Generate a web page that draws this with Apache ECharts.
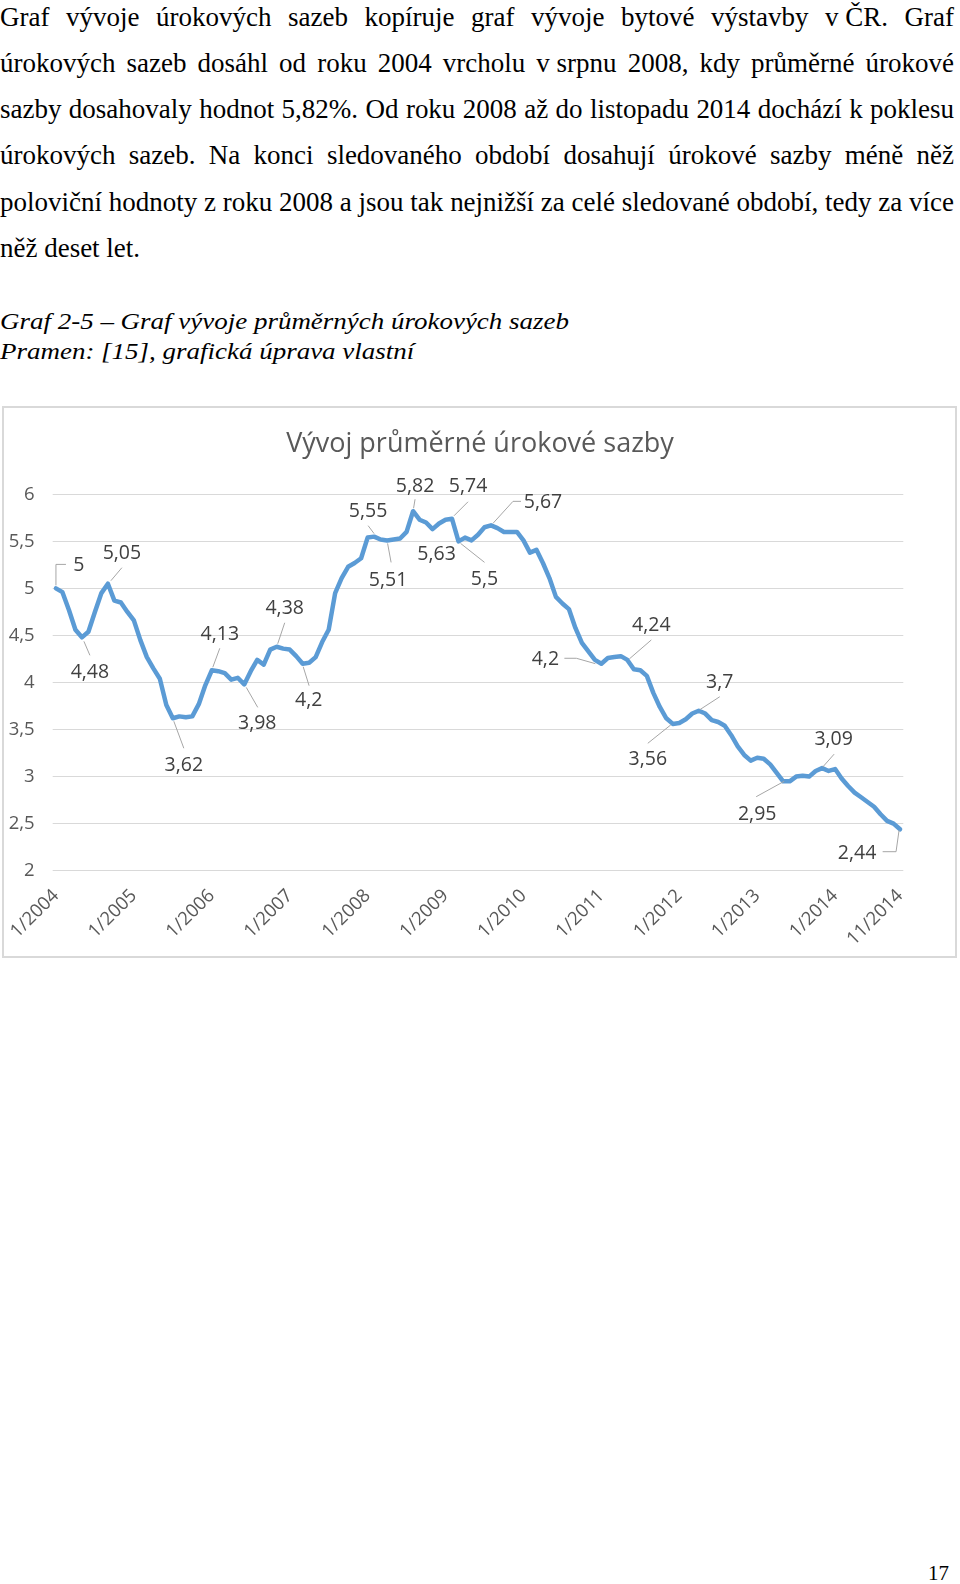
<!DOCTYPE html>
<html>
<head>
<meta charset="utf-8">
<script src="https://cdn.jsdelivr.net/npm/echarts@6/dist/echarts.min.js"></script>
<style>
  html, body { margin: 0; padding: 0; background: #fff; }
  body { width: 960px; height: 1584px; position: relative; overflow: hidden; }
  .ln { position: absolute; left: 0; white-space: nowrap; font-family: "Liberation Serif", "Times New Roman", serif;
        color: #000; transform-origin: 0 0; }
  .body { font-size: 28px; line-height: 28px; }
  .cap { font-size: 22.5px; line-height: 22.5px; font-style: italic; }
  .nb { display: inline-block; }
  #frame { position: absolute; left: 2px; top: 406px; width: 955px; height: 552px; border: 2px solid #d9d9d9; box-sizing: border-box; }
  #chart { position: absolute; left: 0; top: 400px; width: 960px; height: 560px; }
  #pg { position: absolute; left: 928px; top: 1563px; font-family: "Liberation Serif", serif; font-size: 21px; line-height: 21px; }
</style>
</head>
<body>
<div class="ln body fit" style="top:2.5px"><span>Graf vývoje úrokových sazeb kopíruje graf vývoje bytové výstavby <span class="nb">v ČR.</span> Graf</span></div>
<div class="ln body fit" style="top:48.8px"><span>úrokových sazeb dosáhl od roku 2004 vrcholu <span class="nb">v srpnu</span> 2008, kdy průměrné úrokové</span></div>
<div class="ln body fit" style="top:95.1px"><span>sazby dosahovaly hodnot 5,82%. Od roku 2008 až do listopadu 2014 dochází k poklesu</span></div>
<div class="ln body fit" style="top:141.4px"><span>úrokových sazeb. Na konci sledovaného období dosahují úrokové sazby méně něž</span></div>
<div class="ln body fit" style="top:187.7px"><span>poloviční hodnoty z roku 2008 a jsou tak nejnižší za celé sledované období, tedy za více</span></div>
<div class="ln body last" style="top:234px"><span>něž deset let.</span></div>
<div class="ln cap" id="cap1" style="top:311.2px"><span>Graf 2-5 – Graf vývoje průměrných úrokových sazeb</span></div>
<div class="ln cap" id="cap2" style="top:340.5px"><span>Pramen: [15], grafická úprava vlastní</span></div>
<div id="frame"></div>
<div id="chart"></div>
<div id="pg">17</div>
<script>
// ---- data ----
const START_YEAR = 2004;
const N_MONTHS = 131; // 1/2004 .. 11/2014
const categories = [];
for (let k = 0; k < N_MONTHS; k++) {
  categories.push(((k % 12) + 1) + '/' + (START_YEAR + Math.floor(k / 12)));
}
const rates2004 = [5.00, 4.96, 4.77, 4.56, 4.48, 4.54, 4.75, 4.95, 5.05, 4.87, 4.85, 4.75];
const rates2005 = [4.66, 4.45, 4.27, 4.15, 4.04, 3.76, 3.62, 3.64, 3.63, 3.64, 3.77, 3.97];
const rates2006 = [4.13, 4.12, 4.10, 4.03, 4.05, 3.98, 4.12, 4.24, 4.19, 4.35, 4.38, 4.36];
const rates2007 = [4.35, 4.28, 4.20, 4.21, 4.27, 4.43, 4.56, 4.95, 5.11, 5.23, 5.27, 5.32];
const rates2008 = [5.54, 5.55, 5.52, 5.51, 5.52, 5.53, 5.60, 5.82, 5.73, 5.70, 5.63, 5.69];
const rates2009 = [5.73, 5.74, 5.50, 5.54, 5.51, 5.57, 5.65, 5.67, 5.64, 5.60, 5.60, 5.60];
const rates2010 = [5.51, 5.38, 5.41, 5.27, 5.11, 4.91, 4.84, 4.78, 4.58, 4.42, 4.33, 4.24];
const rates2011 = [4.20, 4.26, 4.27, 4.28, 4.24, 4.14, 4.13, 4.07, 3.89, 3.74, 3.62, 3.56];
const rates2012 = [3.57, 3.61, 3.67, 3.70, 3.67, 3.60, 3.58, 3.54, 3.44, 3.32, 3.23, 3.17];
const rates2013 = [3.20, 3.19, 3.13, 3.04, 2.95, 2.95, 3.00, 3.01, 3.00, 3.06, 3.09, 3.06];
const rates2014 = [3.08, 2.98, 2.90, 2.83, 2.78, 2.73, 2.68, 2.60, 2.53, 2.50, 2.44];
const rates = [].concat(rates2004, rates2005, rates2006, rates2007, rates2008, rates2009,
                        rates2010, rates2011, rates2012, rates2013, rates2014);
// months that carry a data label
const labelledMonths = [0, 4, 8, 18, 24, 29, 34, 38, 49, 51, 55, 58, 61, 62, 67, 84, 88, 95, 99, 112, 118, 130];
const yTicks = { min: 2, max: 6, interval: 0.5 };

// ---- label placement (pixel offsets from the data point; layout only) ----
const LABEL_LAYOUT = {
  0:   { d: [23, -23],  line: [[0, -3], [0, -24], [10, -24]] },
  4:   { d: [8, 35],    line: [[2, 4], [8, 18]] },
  8:   { d: [14, -30],  line: [[3, -3], [14, -16]] },
  18:  { d: [11, 47],   line: [[1, 3], [11, 30]] },
  24:  { d: [8, -36],   line: [[1, -3], [8, -22]] },
  29:  { d: [13, 39],   line: [[2, 3], [13.5, 23]] },
  34:  { d: [8, -38],   line: [[1, -3], [8, -24]] },
  38:  { d: [6, 37],    line: [[0.5, 3], [6.4, 22]] },
  49:  { d: [-6, -25],  line: [[0, -3], [-6, -11]] },
  51:  { d: [1, 40],    line: [[0.5, 3], [4, 22]] },
  55:  { d: [2, -25],   line: [[0.5, -3], [2, -12]] },
  58:  { d: [4, 25],    line: null },
  61:  { d: [16, -32],  line: [[2, -3], [16, -17]] },
  62:  { d: [26, 38],   line: [[2, 2], [26, 21]] },
  67:  { d: [52, -23],  line: [[2, -2], [22, -24], [30, -24]] },
  84:  { d: [-56, -4],  line: [[-6, 0], [-25, -5.4], [-37, -5.4]] },
  88:  { d: [24, -34],  line: [[2, -1], [24, -20]] },
  95:  { d: [-25, 36],  line: [[-2, 1], [-25, 19.4]] },
  99:  { d: [21, -28],  line: [[1, -1], [21, -14]] },
  112: { d: [-26, 33],  line: [[1, 0], [-27, 15.4]] },
  118: { d: [11.5, -29],line: [[0.5, -1], [12, -14]] },
  130: { d: [-43, 24],  line: [[-1, 1], [-4, 22.4], [-17.4, 22.4]] }
};

function fmt(v) { return String(+(+v).toFixed(2)).replace('.', ','); }

const chart = echarts.init(document.getElementById('chart'), null, { renderer: 'canvas' });
const FONT = '"Open Sans", "Noto Sans", sans-serif';
chart.setOption({
  animation: false,
  title: {
    text: 'Vývoj průměrné úrokové sazby',
    left: 'center',
    top: 26,
    textStyle: { fontFamily: FONT, fontSize: 27, fontWeight: 'normal', color: '#595959' }
  },
  grid: { left: 52.7, right: 56.7, top: 94.3, bottom: 89.3, containLabel: false },
  xAxis: {
    type: 'category',
    data: categories,
    boundaryGap: true,
    axisLine: { show: false },
    axisTick: { show: false },
    splitLine: { show: false },
    axisLabel: {
      interval: function (idx) { return idx % 12 === 0 || idx === categories.length - 1; },
      rotate: 45,
      margin: 22,
      fontFamily: FONT,
      fontSize: 18.5,
      color: '#595959'
    }
  },
  yAxis: {
    type: 'value',
    min: yTicks.min,
    max: yTicks.max,
    interval: yTicks.interval,
    axisLine: { show: false },
    axisTick: { show: false },
    splitLine: { lineStyle: { color: '#d9d9d9', width: 1 } },
    axisLabel: {
      margin: 18,
      fontFamily: FONT,
      fontSize: 18.5,
      color: '#595959',
      formatter: function (v) { return fmt(v); }
    }
  },
  series: [
    {
      type: 'line',
      data: rates,
      showSymbol: false,
      symbol: 'none',
      lineStyle: { color: '#5b9bd5', width: 4.5, join: 'round', cap: 'round' },
      itemStyle: { color: '#5b9bd5' },
      z: 2
    },
    {
      type: 'custom',
      data: labelledMonths.map(function (m) { return [m, rates[m]]; }),
      encode: { x: 0, y: 1 },
      clip: false,
      silent: true,
      z: 3,
      renderItem: function (params, api) {
        const m = api.value(0), v = api.value(1);
        const p = api.coord([m, v]);
        const L = LABEL_LAYOUT[m];
        const children = [];
        if (L.line) {
          children.push({
            type: 'polyline',
            shape: { points: L.line.map(function (o) { return [p[0] + o[0], p[1] + o[1]]; }) },
            style: { stroke: '#a6a6a6', lineWidth: 1, fill: null }
          });
        }
        children.push({
          type: 'text',
          style: {
            text: fmt(v), x: p[0] + L.d[0], y: p[1] + L.d[1],
            align: 'center', verticalAlign: 'middle',
            fill: '#404040', fontFamily: FONT, fontSize: 19.5
          }
        });
        return { type: 'group', children: children };
      }
    }
  ]
});

// ---- paragraph fitting (justify to page width) ----
function layoutText() {
  const TARGET = 954;
  const fitEls = Array.from(document.querySelectorAll('.ln.body'));
  let maxW = 0;
  fitEls.forEach(function (el) {
    if (el.classList.contains('fit')) {
      maxW = Math.max(maxW, el.firstElementChild.getBoundingClientRect().width);
    }
  });
  const k = TARGET / (maxW + 1);
  fitEls.forEach(function (el) {
    el.style.transform = 'scaleX(' + k + ')';
    if (el.classList.contains('fit')) {
      el.style.width = (TARGET / k) + 'px';
      el.style.textAlign = 'justify';
      el.style.textAlignLast = 'justify';
    }
  });
  const c1 = document.getElementById('cap1'), c2 = document.getElementById('cap2');
  const w1 = c1.firstElementChild.getBoundingClientRect().width;
  const kc = 569 / w1;
  c1.style.transform = 'scaleX(' + kc + ')';
  c2.style.transform = 'scaleX(' + kc + ')';
}
if (document.fonts && document.fonts.ready) { document.fonts.ready.then(layoutText); } else { layoutText(); }
</script>
</body>
</html>
